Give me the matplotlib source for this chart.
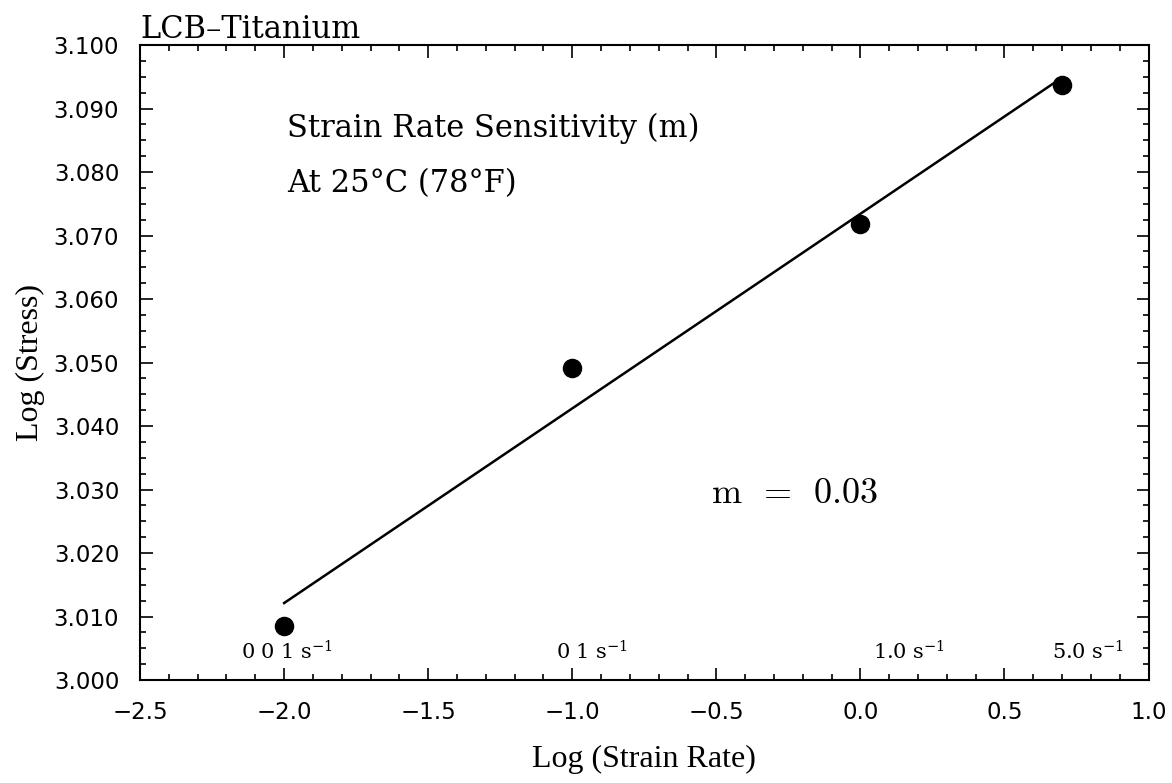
import numpy as np
import matplotlib.pyplot as plt
from matplotlib.ticker import MultipleLocator, FuncFormatter

plt.rcParams['mathtext.fontset'] = 'dejavuserif'

# data
log_rate = [-2.0, -1.0, 0.0, 0.7]
log_stress = [3.0085, 3.0492, 3.0718, 3.0937]
rate_labels = ['0 0 1 s$^{-1}$', '0 1 s$^{-1}$', '1.0 s$^{-1}$', '5.0 s$^{-1}$']
rate_label_x = [-1.99, -0.93, 0.17, 0.79]

serif = 'DejaVu Serif'
sans = 'DejaVu Sans'
times = 'Liberation Serif'

fig = plt.figure(figsize=(11.72, 7.83), dpi=100)
ax = fig.add_axes([0.1195, 0.1315, 0.8605, 0.811])

slope, icpt = np.polyfit(log_rate, log_stress, 1)
xf = np.array([log_rate[0], log_rate[-1]])
ax.plot(xf, slope * xf + icpt, color='black', lw=1.8)
ax.scatter(log_rate, log_stress, s=170, color='black', zorder=3)

for xl, lab in zip(rate_label_x, rate_labels):
    ax.text(xl, 3.0045, lab, ha='center', va='center', fontsize=15, family=serif)

ax.text(-1.99, 3.0868, 'Strain Rate Sensitivity (m)', fontsize=22, family=serif, va='center')
ax.text(-1.99, 3.0782, 'At 25°C (78°F)', fontsize=22, family=serif, va='center')
ax.text(-0.52, 3.0295, r'$\mathrm{m\ \,=\ \,0.03}$', fontsize=26, math_fontfamily='cm', va='center')

ax.set_xlim(-2.5, 1.0)
ax.set_ylim(3.0, 3.1)
ax.xaxis.set_major_locator(MultipleLocator(0.5))
ax.xaxis.set_minor_locator(MultipleLocator(0.1))
ax.yaxis.set_major_locator(MultipleLocator(0.01))
ax.yaxis.set_minor_locator(MultipleLocator(0.0025))
ax.xaxis.set_major_formatter(FuncFormatter(lambda v, p: f'{v:.1f}'.replace('-', '\u2212')))
ax.yaxis.set_major_formatter(FuncFormatter(lambda v, p: f'{v:.3f}'))
ax.tick_params(which='both', direction='in', top=True, right=True, width=1.2)
ax.tick_params(which='major', length=9, labelsize=16.5, pad=15)
ax.tick_params(which='minor', length=4)
for lab in ax.get_xticklabels() + ax.get_yticklabels():
    lab.set_family(sans)
for sp in ax.spines.values():
    sp.set_linewidth(1.5)

ax.set_xlabel('Log (Strain Rate)', fontsize=23, family=times, labelpad=15)
ax.set_ylabel('Log (Stress)', fontsize=23, family=times, labelpad=6)
ax.set_title('LCB–Titanium', loc='left', fontsize=22, family=serif, pad=4)

fig.savefig('out.png', dpi=100)
